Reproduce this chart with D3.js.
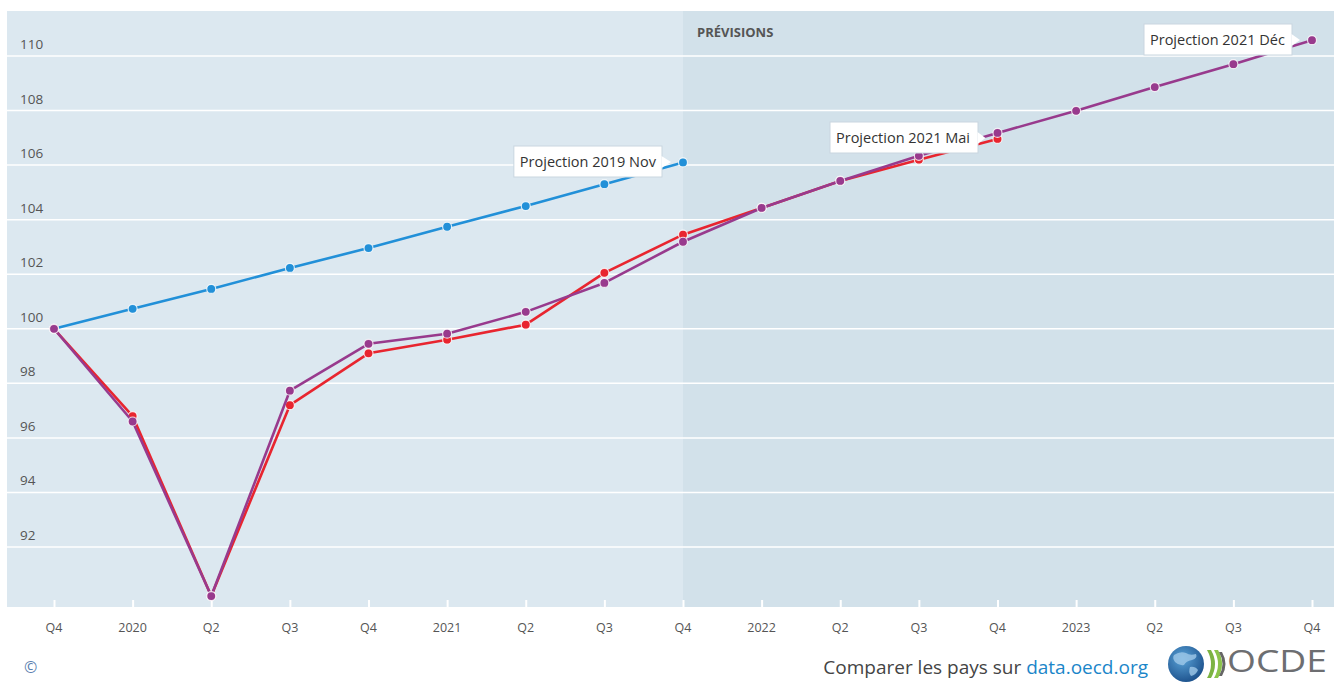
<!DOCTYPE html>
<html>
<head>
<meta charset="utf-8">
<script src="https://cdn.jsdelivr.net/npm/d3@7"></script>
<style>
  body { margin: 0; background: #fff; }
  svg { display: block; font-family: 'Open Sans', sans-serif; }
  .grid line { stroke: #fff; stroke-width: 1.5px; }
  .ylab { font-size: 13.5px; fill: #555; }
  .xlab { font-size: 12.5px; fill: #555; }
  .tag text { font-size: 14.5px; fill: #333; }
</style>
</head>
<body>
<div id="chart"></div>
<script>
// quarters on the x axis
const periods = ["2019Q4","2020Q1","2020Q2","2020Q3","2020Q4","2021Q1","2021Q2","2021Q3","2021Q4",
                 "2022Q1","2022Q2","2022Q3","2022Q4","2023Q1","2023Q2","2023Q3","2023Q4"];
const tickLabels = ["Q4","2020","Q2","Q3","Q4","2021","Q2","Q3","Q4","2022","Q2","Q3","Q4","2023","Q2","Q3","Q4"];
const yTicks = [92, 94, 96, 98, 100, 102, 104, 106, 108, 110];

// series values (index, Q4 2019 = 100)
const nov2019 = [100, 100.73, 101.46, 102.23, 102.96, 103.74, 104.5, 105.3, 106.1];
const mai2021 = [100, 96.8, 90.2, 97.2, 99.1, 99.6, 100.15, 102.05, 103.45, 104.43, 105.42, 106.2, 106.96];
const dec2021 = [100, 96.6, 90.2, 97.73, 99.45, 99.82, 100.62, 101.68, 103.19, 104.43, 105.42, 106.34, 107.18,
                 107.99, 108.86, 109.7, 110.58];

const seriesNames = ["Projection 2019 Nov", "Projection 2021 Mai", "Projection 2021 Déc"];
const forecastStart = "2021Q4";

const W = 1334, H = 682;
const plot = {left: 7, right: 1334, top: 11, bottom: 607};

const svg = d3.select("#chart").append("svg").attr("width", W).attr("height", H);

const x = d3.scalePoint().domain(periods).range([54, 1312]);
const y = d3.scaleLinear().domain([89.8, 111.65]).range([plot.bottom, plot.top]);

// backgrounds
svg.append("rect")
    .attr("x", plot.left).attr("y", plot.top)
    .attr("width", plot.right - plot.left).attr("height", plot.bottom - plot.top)
    .attr("fill", "#dce8f0");
svg.append("rect")
    .attr("x", x(forecastStart)).attr("y", plot.top)
    .attr("width", plot.right - x(forecastStart)).attr("height", plot.bottom - plot.top)
    .attr("fill", "#d2e1ea");

svg.append("text")
    .attr("x", x(forecastStart) + 14).attr("y", 37)
    .attr("font-size", 13).attr("font-weight", "bold").attr("fill", "#555")
    .text("PRÉVISIONS");

// grid + y labels
const grid = svg.append("g").attr("class", "grid");
grid.selectAll("line").data(yTicks).join("line")
    .attr("x1", plot.left).attr("x2", plot.right)
    .attr("y1", d => y(d)).attr("y2", d => y(d));
svg.selectAll("text.ylab").data(yTicks).join("text")
    .attr("class", "ylab")
    .attr("x", 20).attr("y", d => y(d) - 7)
    .text(d => d);

// x axis
const xAxis = d3.axisTop(x).tickSize(7).tickFormat("");
const gx = svg.append("g").attr("transform", `translate(0,${plot.bottom})`).call(xAxis);
gx.select(".domain").remove();
gx.selectAll(".tick line").attr("stroke", "#fff").attr("stroke-width", 2);
svg.selectAll("text.xlab").data(periods).join("text")
    .attr("class", "xlab")
    .attr("x", d => x(d)).attr("y", 632)
    .attr("text-anchor", "middle")
    .text((d, i) => tickLabels[i]);

// lines
const line = d3.line()
    .defined(d => d != null)
    .x((d, i) => x(periods[i]))
    .y(d => y(d));

const series = [
  {name: seriesNames[0], values: nov2019, color: "#2290d8"},
  {name: seriesNames[1], values: mai2021, color: "#e8252f"},
  {name: seriesNames[2], values: dec2021, color: "#983a8d"}
];

series.forEach(s => {
  const g = svg.append("g");
  g.append("path")
      .attr("d", line(s.values))
      .attr("fill", "none")
      .attr("stroke", s.color)
      .attr("stroke-width", 2.6)
      .attr("stroke-linejoin", "round");
  g.selectAll("circle").data(s.values).join("circle")
      .attr("cx", (d, i) => x(periods[i]))
      .attr("cy", d => y(d))
      .attr("r", 4.5)
      .attr("fill", s.color)
      .attr("stroke", "#fff")
      .attr("stroke-width", 1.2)
      .attr("stroke-opacity", 0.8);
});

// end-of-series tags
const tagPos = [
  {s: 0, right: 662, top: 146},
  {s: 1, right: 978, top: 122},
  {s: 2, right: 1292, top: 24}
];
tagPos.forEach(t => {
  const s = series[t.s];
  const last = s.values.length - 1;
  const px = x(periods[last]);
  const g = svg.append("g").attr("class", "tag");
  const txt = g.append("text").attr("y", t.top + 21).text(s.name);
  const tw = txt.node().getComputedTextLength();
  const bw = Math.max(tw + 12, 148);
  const bx = t.right - bw;
  txt.attr("x", bx + 6);
  g.insert("rect", "text")
      .attr("x", bx).attr("y", t.top)
      .attr("width", bw).attr("height", 31)
      .attr("fill", "#fff").attr("stroke", "#c9d6df").attr("stroke-width", 1);
  const my = t.top + 16;
  g.insert("path", "text")
      .attr("d", `M${t.right - 0.5},${my - 6} L${px - 12},${my} L${t.right - 0.5},${my + 6} Z`)
      .attr("fill", "#fff");
});

// footer
svg.append("text")
    .attr("x", 24).attr("y", 673)
    .attr("font-size", 16).attr("fill", "#5b7fb0")
    .text("©");

const foot = svg.append("text")
    .attr("x", 1148).attr("y", 674)
    .attr("text-anchor", "end")
    .attr("font-size", 19);
foot.append("tspan").attr("fill", "#444").text("Comparer les pays sur ");
foot.append("tspan").attr("fill", "#1b86c9").text("data.oecd.org");

// OECD logo
const logo = svg.append("g");
const grad = svg.append("defs").append("radialGradient").attr("id", "globe")
    .attr("cx", "40%").attr("cy", "35%").attr("r", "70%");
grad.append("stop").attr("offset", "0%").attr("stop-color", "#5aa3d8");
grad.append("stop").attr("offset", "100%").attr("stop-color", "#1b4f8a");
logo.append("circle").attr("cx", 1186).attr("cy", 664).attr("r", 18).attr("fill", "url(#globe)");
logo.append("path")
    .attr("d", "M1174,655 q6,-4 12,-2 q4,3 10,1 q2,4 -4,6 q-6,1 -8,5 q-5,1 -9,-3 q-3,-4 -1,-7 Z M1190,667 q5,-1 8,3 q-2,5 -7,6 q-3,-4 -1,-9 Z")
    .attr("fill", "#9fc8e8").attr("opacity", 0.8);
logo.append("path")
    .attr("d", "M1207,650 q8,14 0,28 l4,0 q8,-14 0,-28 Z")
    .attr("fill", "#7cb342");
logo.append("path")
    .attr("d", "M1214,650 q8,14 0,28 l4,0 q8,-14 0,-28 Z")
    .attr("fill", "#8bc34a");
logo.append("path")
    .attr("d", "M1219,652 q7,12 0,24 l3,0 q7,-12 0,-24 Z")
    .attr("fill", "#666");
logo.append("text")
    .attr("x", 1227).attr("y", 672)
    .attr("font-size", 31).attr("fill", "#6d6e71")
    .attr("textLength", 100).attr("lengthAdjust", "spacingAndGlyphs")
    .text("OCDE");
</script>
</body>
</html>
